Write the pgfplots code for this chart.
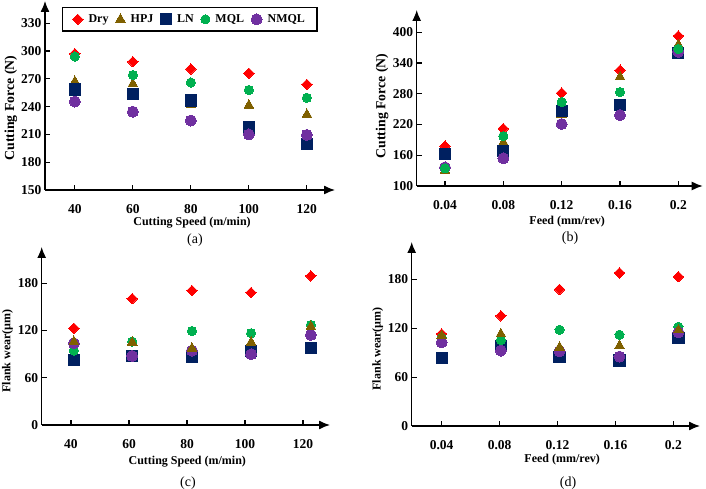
\documentclass[border=0pt]{standalone}
\usepackage{pgfplots}
\pgfplotsset{compat=1.18}
\usepackage{fontspec}
\setmainfont{Liberation Serif}
\usetikzlibrary{arrows.meta}
\definecolor{cDry}{RGB}{255,0,0}
\definecolor{cHPJ}{RGB}{127,96,0}
\definecolor{cLN}{RGB}{0,32,96}
\definecolor{cMQL}{RGB}{0,176,80}
\definecolor{cNMQL}{RGB}{112,48,160}
\pgfplotsset{
  panel/.style={
    scale only axis,
    axis lines=left,
    axis line style={line width=1.3pt,-{Latex[length=11pt,width=9pt]}},
    tick style={line width=1.2pt,black},
    tick align=inside,
    major tick length=5pt,
    /pgf/number format/assume math mode=true,
    ticklabel style={font=\fontsize{13.5}{15}\selectfont\bfseries},
    xticklabel style={anchor=center,yshift=-19pt},
    clip=false,
  },
  sDry/.style={only marks,mark=square*,mark size=3.7pt,mark options={rotate=45,fill=cDry,draw=cDry,line width=0pt},color=cDry},
  sHPJ/.style={only marks,mark=triangle*,mark size=5.6pt,mark options={fill=cHPJ,draw=cHPJ,line width=0pt},color=cHPJ},
  sLN/.style={only marks,mark=square*,mark size=5.6pt,mark options={fill=cLN,draw=cLN,line width=0pt},color=cLN},
  sMQL/.style={only marks,mark=*,mark size=4.6pt,mark options={fill=cMQL,draw=cMQL,line width=0pt},color=cMQL},
  sNMQL/.style={only marks,mark=*,mark size=5.5pt,mark options={fill=cNMQL,draw=cNMQL,line width=0pt},color=cNMQL},
}
\newcommand{\lfont}{\fontsize{12}{14}\selectfont\bfseries}
\newcommand{\yfont}{\fontsize{13.8}{15}\selectfont\bfseries}
\begin{document}
\begin{tikzpicture}
\useasboundingbox (0pt,0pt) rectangle (706pt,489pt);
% (a)
\begin{axis}[panel,at={(45pt,299pt)},anchor=south west,width=290pt,height=189pt,
  xmin=29.7,xmax=129.7,ymin=150,ymax=354,
  xtick={40,60,80,100,120},ytick={150,180,210,240,270,300,330},
  xlabel={Cutting Speed (m/min)},ylabel={Cutting Force (N)},
  xlabel style={at={(axis description cs:0.507,-0.175)},anchor=center,font=\lfont},
  ylabel style={at={(axis description cs:-0.118,0.434)},anchor=center,rotate=0,font=\yfont},
  legend columns=5,
  legend style={at={(axis description cs:0.0586,0.968)},anchor=north west,draw=black,line width=1.2pt,
    inner xsep=10pt,inner ysep=5pt,font=\lfont,
    /tikz/every odd column/.append style={column sep=3.5pt},
    /tikz/every even column/.append style={column sep=5pt}},
]
\addplot[sDry] coordinates {(40,297)(60,288.5)(80,280.5)(100,276)(120,264)};
\addplot[sHPJ] coordinates {(40,267)(60,264.5)(80,242.5)(100,241.5)(120,231.5)};
\addplot[sLN] coordinates {(40,258.5)(60,253.5)(80,246.5)(100,217.5)(120,199.5)};
\addplot[sMQL] coordinates {(40,294)(60,274)(80,266)(100,258)(120,249.5)};
\addplot[sNMQL] coordinates {(40,245.5)(60,234.5)(80,225)(100,210)(120,209.5)};
\legend{Dry,HPJ,LN,MQL,NMQL}
\end{axis}
% (b)
\begin{axis}[panel,at={(416.7pt,303pt)},anchor=south west,width=286pt,height=176pt,
  xmin=0.0206,xmax=0.2167,ymin=100,ymax=443.6,
  xtick={0.04,0.08,0.12,0.16,0.2},xticklabels={0.04,0.08,0.12,0.16,0.2},
  ytick={100,160,220,280,340,400},
  xlabel={Feed (mm/rev)},ylabel={Cutting Force (N)},
  xlabel style={at={(axis description cs:0.526,-0.205)},anchor=center,font=\lfont},
  ylabel style={at={(axis description cs:-0.121,0.455)},anchor=center,rotate=0,font=\yfont},
]
\addplot[sDry] coordinates {(0.04,178)(0.08,212)(0.12,281.5)(0.16,326)(0.2,393)};
\addplot[sHPJ] coordinates {(0.04,130)(0.08,185)(0.12,239)(0.16,313)(0.2,376)};
\addplot[sLN] coordinates {(0.04,162.5)(0.08,168)(0.12,246)(0.16,257.5)(0.2,359)};
\addplot[sNMQL] coordinates {(0.04,136.5)(0.08,154)(0.12,221)(0.16,238.5)(0.2,362)};
\addplot[sMQL] coordinates {(0.04,134.5)(0.08,197.5)(0.12,264)(0.16,283.5)(0.2,367.5)};
\end{axis}
% (c)
\begin{axis}[panel,at={(41.7pt,64pt)},anchor=south west,width=288.3pt,height=178pt,
  xmin=29.9,xmax=129.3,ymin=0,ymax=226,
  xtick={40,60,80,100,120},ytick={0,60,120,180},
  xlabel={Cutting Speed (m/min)},ylabel={Flank wear(\textmu m)},
  xlabel style={at={(axis description cs:0.505,-0.208)},anchor=center,font=\lfont},
  ylabel style={at={(axis description cs:-0.119,0.416)},anchor=center,rotate=0,font=\lfont},
]
\addplot[sDry] coordinates {(41,122.8)(61.1,160.5)(81.7,170.7)(102.1,168.1)(122.7,189.3)};
\addplot[sLN] coordinates {(41,82.6)(61.1,87.7)(81.7,86.8)(102.1,94)(122.7,97.4)};
\addplot[sMQL] coordinates {(41,94.5)(61.1,105.9)(81.7,119.4)(102.1,116.5)(122.7,127)};
\addplot[sNMQL] coordinates {(41,103.8)(61.1,87.7)(81.7,94.5)(102.1,89.8)(122.7,114.4)};
\addplot[sHPJ] coordinates {(41,105.9)(61.1,105)(81.7,97.4)(102.1,105)(122.7,125)};
\end{axis}
% (d)
\begin{axis}[panel,at={(411.7pt,63pt)},anchor=south west,width=288.3pt,height=184pt,
  xmin=0.0193,xmax=0.2184,ymin=0,ymax=226,
  xtick={0.04,0.08,0.12,0.16,0.2},xticklabels={0.04,0.08,0.12,0.16,0.2},
  ytick={0,60,120,180},
  xlabel={Feed (mm/rev)},ylabel={Flank wear(\textmu m)},
  xlabel style={at={(axis description cs:0.522,-0.185)},anchor=center,font=\lfont},
  ylabel style={at={(axis description cs:-0.118,0.42)},anchor=center,rotate=0,font=\lfont},
]
\addplot[sDry] coordinates {(0.04,113)(0.0809,135.3)(0.1214,167.8)(0.1628,188.1)(0.2035,183.3)};
\addplot[sLN] coordinates {(0.04,83.3)(0.0809,98.3)(0.1214,84.5)(0.1628,80.5)(0.2035,107.7)};
\addplot[sMQL] coordinates {(0.04,108.9)(0.0809,105.6)(0.1214,118.2)(0.1628,112.1)(0.2035,121.9)};
\addplot[sNMQL] coordinates {(0.04,102.8)(0.0809,92.6)(0.1214,91.8)(0.1628,85.3)(0.2035,115)};
\addplot[sHPJ] coordinates {(0.04,111)(0.0809,113)(0.1214,96.7)(0.1628,98.7)(0.2035,117.8)};
\end{axis}
\node[font=\fontsize{14}{16}\selectfont] at (195pt,249pt) {(a)};
\node[font=\fontsize{14}{16}\selectfont] at (570pt,251pt) {(b)};
\node[font=\fontsize{14}{16}\selectfont] at (188pt,6pt) {(c)};
\node[font=\fontsize{14}{16}\selectfont] at (568pt,6pt) {(d)};
\end{tikzpicture}
\end{document}
